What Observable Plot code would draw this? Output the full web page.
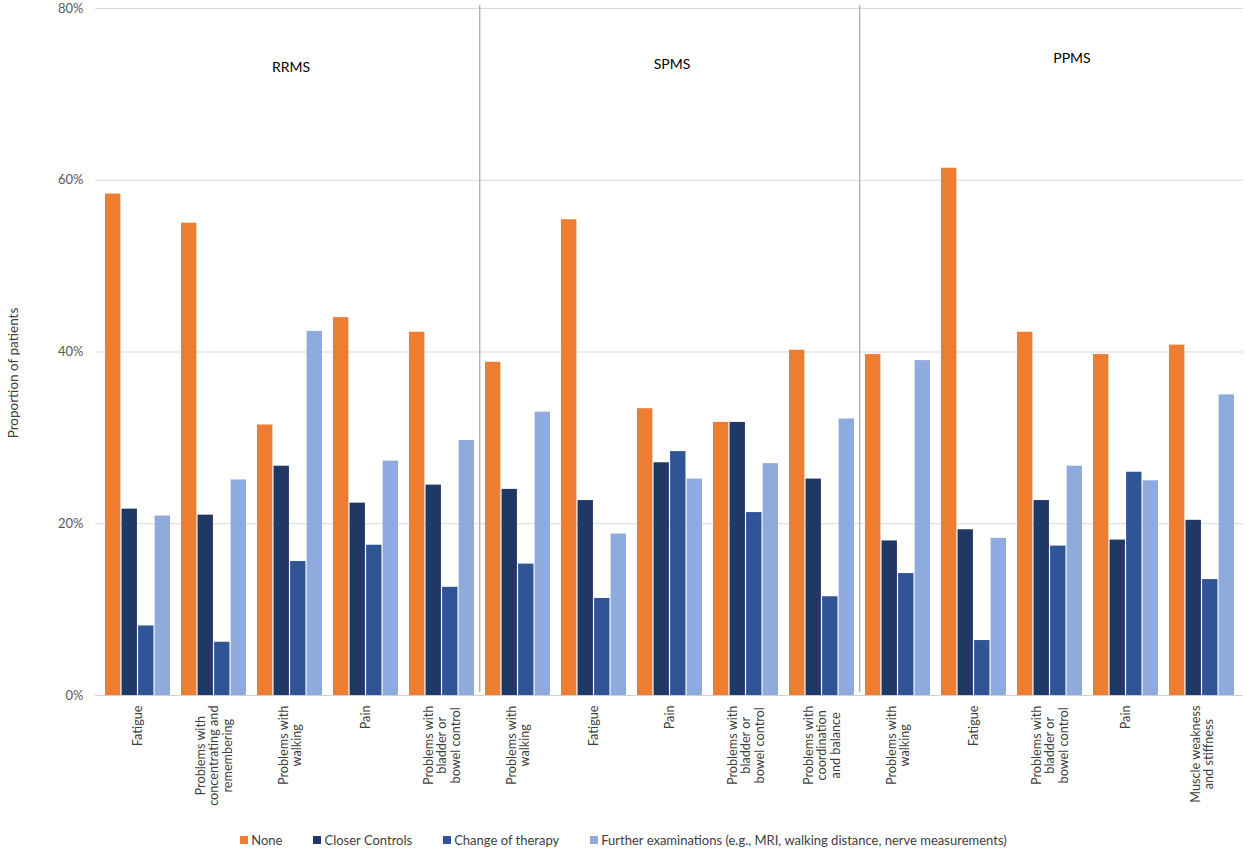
<!DOCTYPE html>
<html>
<head>
<meta charset="utf-8">
<script src="https://cdn.jsdelivr.net/npm/d3@7"></script>
<script src="https://cdn.jsdelivr.net/npm/@observablehq/plot@0.6"></script>
<style>
  body { margin: 0; background: #fff; font-family: Lato, "Open Sans", sans-serif; }
  #chart svg { display: block; }
  #legend { display: flex; justify-content: center; align-items: center; gap: 31px; height: 20px; font-size: 13px; color: #404040; }
  #legend .item { display: flex; align-items: center; gap: 3px; white-space: nowrap; }
  #legend .sw { width: 8px; height: 8px; display: inline-block; }
</style>
</head>
<body>
<div id="chart"></div>
<div id="legend"></div>
<script>
// ---- data ----
const seriesNames = ["None", "Closer Controls", "Change of therapy", "Further examinations (e.g., MRI, walking distance, nerve measurements)"];
const groupNames = ["RRMS", "SPMS", "PPMS"];
const categoryGroup = ["RRMS","RRMS","RRMS","RRMS","RRMS","SPMS","SPMS","SPMS","SPMS","SPMS","PPMS","PPMS","PPMS","PPMS","PPMS"];
const categoryLabels = [
  "Fatigue",
  "Problems with\nconcentrating and\nremembering",
  "Problems with\nwalking",
  "Pain",
  "Problems with\nbladder or\nbowel control",
  "Problems with\nwalking",
  "Fatigue",
  "Pain",
  "Problems with\nbladder or\nbowel control",
  "Problems with\ncoordination\nand balance",
  "Problems with\nwalking",
  "Fatigue",
  "Problems with\nbladder or\nbowel control",
  "Pain",
  "Muscle weakness\nand stiffness"
];
const noneValues    = [58.4, 55.0, 31.5, 44.0, 42.3, 38.8, 55.4, 33.4, 31.8, 40.2, 39.7, 61.4, 42.3, 39.7, 40.8];
const closerValues  = [21.7, 21.0, 26.7, 22.4, 24.5, 24.0, 22.7, 27.1, 31.8, 25.2, 18.0, 19.3, 22.7, 18.1, 20.4];
const changeValues  = [ 8.1,  6.2, 15.6, 17.5, 12.6, 15.3, 11.3, 28.4, 21.3, 11.5, 14.2,  6.4, 17.4, 26.0, 13.5];
const furtherValues = [20.9, 25.1, 42.4, 27.3, 29.7, 33.0, 18.8, 25.2, 27.0, 32.2, 39.0, 18.3, 26.7, 25.0, 35.0];
const yTicks = [0, 0.2, 0.4, 0.6, 0.8];
const yLabel = "Proportion of patients";

// ---- styles / layout ----
const seriesColors = ["#ED7D31", "#203864", "#2F5597", "#8FAADC"];
const W = 1247, H = 830, mL = 95, mR = 4, mT = 8, mB = 135;
const padIn = 0.15, padOut = 0.075;
const titleOffsets = {RRMS: {at: 2, dx: 1, dy: 54}, SPMS: {at: 7, dx: 2, dy: 51}, PPMS: {at: 12, dx: 22, dy: 45}};

const values = [noneValues, closerValues, changeValues, furtherValues];
const n = categoryLabels.length;
const keys = categoryLabels.map((_, i) => String(i));
const step = (W - mL - mR) / (n - padIn + 2 * padOut);
const bw = step * (1 - padIn);
const gap = 1.1;
const bwEach = (bw - 3 * gap) / 4;

const table = [];
seriesNames.forEach((s, j) => values[j].forEach((v, i) => table.push({key: keys[i], group: categoryGroup[i], series: s, value: v / 100})));

const barMarks = seriesNames.map((s, j) =>
  Plot.barY(table.filter(d => d.series === s), {
    x: "key", y: "value", fill: seriesColors[j],
    insetLeft: j * (bwEach + gap),
    insetRight: bw - j * (bwEach + gap) - bwEach
  })
);

const ctx = document.createElement("canvas").getContext("2d");
const labelFont = 12.7;
ctx.font = `${labelFont}px Lato`;
const labelMarks = categoryLabels.map((lab, i) => {
  const mw = d3.max(lab.split("\n"), l => ctx.measureText(l).width);
  return Plot.text([keys[i]], {
    x: d => d, text: () => lab, frameAnchor: "bottom",
    rotate: -90, textAnchor: "middle", lineAnchor: "middle", lineHeight: 1.1,
    dy: 10 + mw / 2, fontSize: labelFont, fill: "#404040"
  });
});

const titleMarks = groupNames.map(g => {
  const o = titleOffsets[g];
  return Plot.text([g], {x: () => keys[o.at], text: d => d, frameAnchor: "top", dx: o.dx, dy: o.dy, fontSize: 14, fill: "#000"});
});

// separators at the start of SPMS and PPMS categories
const sepKeys = keys.filter((k, i) => i > 0 && categoryGroup[i] !== categoryGroup[i - 1]);

const chart = Plot.plot({
  width: W, height: H,
  marginLeft: mL, marginRight: mR, marginTop: mT, marginBottom: mB,
  style: {fontFamily: "Lato, 'Open Sans', sans-serif", fontSize: "13px", color: "#595959", background: "#fff"},
  x: {domain: keys, paddingInner: padIn, paddingOuter: padOut, axis: null},
  y: {domain: [0, 0.8]},
  marks: [
    Plot.ruleY(yTicks.slice(1), {stroke: "#d9d9d9", strokeWidth: 1}),
    Plot.ruleY([0], {stroke: "#d0d0d0", strokeWidth: 1}),
    ...barMarks,
    Plot.ruleX(sepKeys, {x: d => d, dx: -step / 2, y1: 0, y2: 0.8, insetTop: -3, insetBottom: 3, stroke: "#a6a6a6", strokeWidth: 1.2}),
    Plot.axisY({ticks: yTicks, tickFormat: d3.format(".0%"), tickSize: 0, tickPadding: 12, label: null, fontSize: 13, fill: "#595959"}),
    Plot.text([yLabel], {frameAnchor: "left", text: d => d, rotate: -90, textAnchor: "middle", dx: -82, dy: 21, fontSize: 13.5, fill: "#404040"}),
    ...titleMarks,
    ...labelMarks
  ]
});
document.getElementById("chart").appendChild(chart);

const legend = document.getElementById("legend");
seriesNames.forEach((s, j) => {
  const item = document.createElement("div");
  item.className = "item";
  const sw = document.createElement("span");
  sw.className = "sw";
  sw.style.background = seriesColors[j];
  const t = document.createElement("span");
  t.textContent = s;
  item.appendChild(sw); item.appendChild(t);
  legend.appendChild(item);
});
</script>
</body>
</html>
